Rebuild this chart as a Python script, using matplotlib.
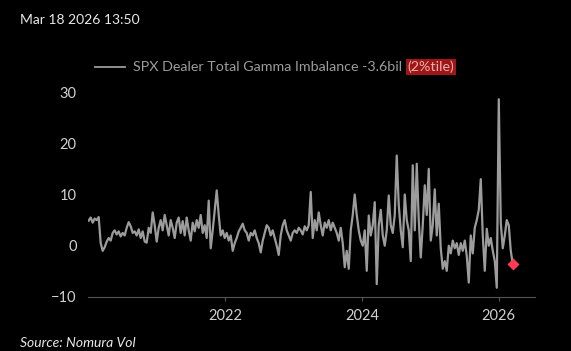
import numpy as np
import pandas as pd
import matplotlib
matplotlib.use("Agg")
import matplotlib.pyplot as plt
import matplotlib.dates as mdates
from matplotlib.lines import Line2D

### Data (~10 days per point)
start_date = "2020-01-01"
end_date = "2026-03-18"
gamma = [
    4.9, 5.5, 4.5, 5.3, 5.0, 5.6, 0.5, -1.0, -0.3, 0.8, 1.5, 1.0, 2.5, 3.0, 2.2, 2.8,
    1.8, 2.5, 2.0, 3.5, 4.6, 3.8, 2.5, 2.8, 2.0, 3.2, 1.5, 2.8, 0.8, 0.6, 3.5, 2.5,
    6.5, 4.0, 0.8, 3.5, 5.0, 3.0, 6.0, 4.0, 2.0, 5.0, 3.5, 1.5, 4.5, 5.5, 2.5, 4.8,
    2.0, 5.5, 3.0, 1.0, 4.5, 2.8, 5.0, 3.5, 6.0, 2.5, 4.0, 1.5, 8.8, -0.5, 3.0, 7.0,
    10.8, 6.0, 2.0, 3.0, 1.5, 2.5, 1.0, 2.0, -1.0, 0.5, 1.5, 2.8, 3.5, 4.3, 3.0, 2.5,
    1.0, 2.5, 2.0, 3.0, 1.5, 0.5, -1.3, 1.0, 2.5, 4.0, 3.5, 2.0, 3.0, 1.5, 0.0, -1.8,
    2.0, 4.0, 5.0, 3.0, 2.0, 1.0, 2.5, 3.0, 2.5, 3.5, 3.0, 2.2, 3.8, 3.0, 4.0, 10.5,
    1.5, 5.0, 3.0, 6.5, 4.0, 2.0, 4.5, 3.5, 5.0, 3.0, 4.5, 3.5, 2.5, 1.0, 3.5, 0.5,
    -4.2, -1.0, -4.5, 3.0, 6.0, 10.0, 6.0, 3.0, 1.0, 0.0, 3.0, -4.9, 5.9, 2.0, 4.0, 8.5,
    -7.5, 4.0, 7.0, 2.0, 0.0, 3.0, 9.8, 4.0, 2.5, 6.0, 17.6, 8.0, 3.0, -0.3, 10.0, 5.0,
    3.0, -3.0, 15.7, 3.0, 16.0, 5.0, -2.3, 4.0, 11.8, 6.0, 15.0, 1.0, 4.0, 11.0, 2.0, 8.2,
    -0.5, -4.5, -3.0, -4.9, 0.0, -1.5, 1.0, -0.5, 0.5, -1.8, 0.5, -1.0, 1.0, -2.0, -7.2, 2.0,
    -1.5, 3.5, 5.0, 7.0, 13.0, 2.0, -4.9, 3.3, 0.0, 1.5, -1.0, -3.0, -8.2, 28.6, 4.5, -0.5,
    2.0, 5.0, 4.0, -1.0, -3.6,
]
y_ticks = [-10, 0, 10, 20, 30]
x_ticks = ["2022-01-01", "2024-01-01", "2026-01-01"]
stamp = "Mar 18 2026 13:50"
legend_txt = "SPX Dealer Total Gamma Imbalance -3.6bil"
pct_txt = "(2%tile)"
source_txt = "Source: Nomura Vol"

dates = pd.date_range(start_date, end_date, periods=len(gamma))

### Plot
plt.rcParams['font.family'] = ['Lato', 'DejaVu Sans']
bg = "black"
grey = "#9c9c9c"

fig = plt.figure(figsize=(5.71, 3.51), dpi=100, facecolor=bg)
ax = fig.add_axes([0.154, 0.154, 0.783, 0.613], facecolor=bg)

ax.plot(dates, gamma, color=grey, lw=1.6)
ax.plot(dates[-1], gamma[-1], 'D', color="#ff3b55", ms=6, mec="none")

ax.set_ylim(-10, 32)
ax.set_xlim(pd.Timestamp("2019-12-28"), pd.Timestamp("2026-07-15"))
ax.set_yticks(y_ticks)
ax.set_xticks(pd.to_datetime(x_ticks))
ax.xaxis.set_major_formatter(mdates.DateFormatter("%Y"))

for s in ["top", "right", "left"]:
    ax.spines[s].set_visible(False)
ax.spines["bottom"].set_color("#555555")
ax.spines["bottom"].set_linewidth(0.8)
ax.tick_params(axis="y", length=0, colors="#d0d0d0", labelsize=10.5, pad=8)
ax.tick_params(axis="x", length=3, color="#555555", colors="#d0d0d0", labelsize=10.5, pad=6)

# header and legend
fig.text(20 / 571, 1 - 20 / 351, stamp, color="#e8e8e8", fontsize=10, va="center")
fig.add_artist(Line2D([95 / 571, 125 / 571], [1 - 67 / 351] * 2, color=grey, lw=1.3))
t1 = fig.text(133 / 571, 1 - 67 / 351, legend_txt, color=grey, fontsize=10.3, va="center")
fig.canvas.draw()
ax.annotate(pct_txt, xy=(1, 0.5), xycoords=t1, xytext=(4, 0), textcoords="offset points",
            va="center", ha="left", color="#e8b0b0", fontsize=10.3,
            bbox=dict(boxstyle="square,pad=0.12", fc="#a01515", ec="none"))

# source line sits at the very bottom edge
fig.text(20 / 571, 1 - 349 / 351, source_txt, color="#e8e8e8", fontsize=10, style="italic", va="bottom")

fig.savefig("out.png", dpi=100, facecolor=bg)
